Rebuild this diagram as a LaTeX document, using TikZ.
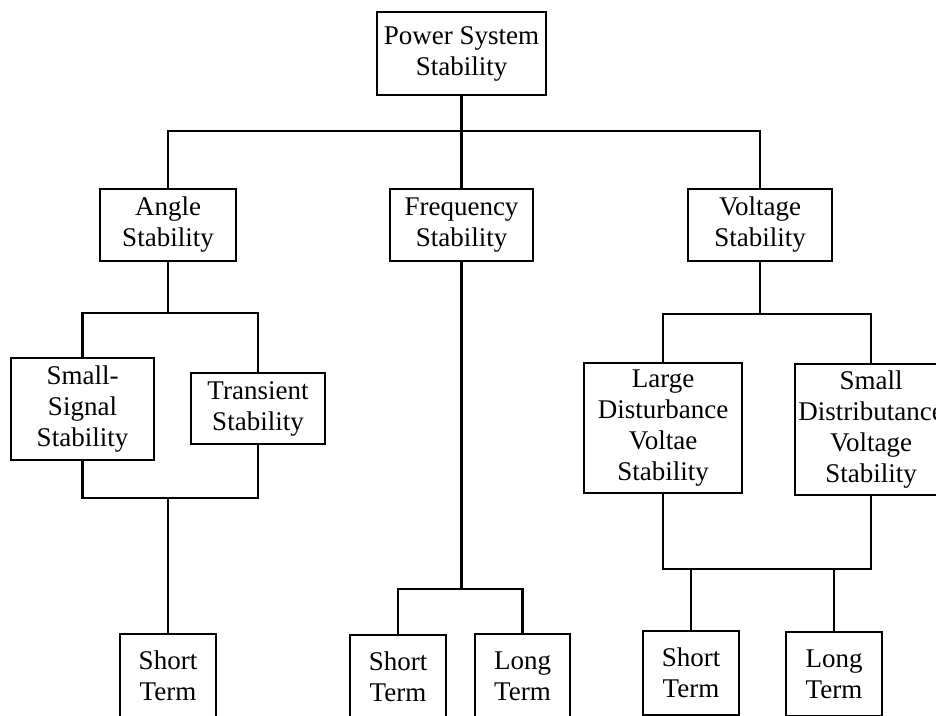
\documentclass[tikz,border=0pt]{standalone}
\usepackage{fontspec}
\setmainfont{Liberation Serif}
\begin{document}
\begin{tikzpicture}[x=1pt,y=-1pt,
  box/.style={draw=black,line width=2.6pt,rectangle,inner sep=0pt,align=center,
    font=\fontsize{27}{31}\selectfont,fill=white},
  conn/.style={draw=black,line width=2.5pt,line cap=rect}]
\useasboundingbox (0,0) rectangle (936,715);
\clip (0,0) rectangle (936,715);
\fill[white] (0,0) rectangle (936,715);
% nodes
\node[box,minimum width=169pt,minimum height=83pt] (pss) at (461.5,53.5) {Power System\\Stability};
\node[box,minimum width=136pt,minimum height=72pt] (ang) at (168,225) {Angle\\Stability};
\node[box,minimum width=143pt,minimum height=72pt] (freq) at (461.5,225) {Frequency\\Stability};
\node[box,minimum width=144pt,minimum height=72pt] (volt) at (760,225) {Voltage\\Stability};
\node[box,minimum width=143pt,minimum height=102pt] (sss) at (82.5,409) {Small-\\Signal\\Stability};
\node[box,minimum width=134pt,minimum height=71pt] (trans) at (258,408.5) {Transient\\Stability};
\node[box,minimum width=158pt,minimum height=130pt] (ldv) at (663,428) {Large\\Disturbance\\Voltae\\Stability};
\node[box,minimum width=152pt,minimum height=131pt] (sdv) at (871,429.5) {Small\\Distributance\\Voltage\\Stability};
\node[box,minimum width=96pt,minimum height=84pt] (st1) at (168,676) {Short\\Term};
\node[box,minimum width=96pt,minimum height=84pt] (st2) at (398,677) {Short\\Term};
\node[box,minimum width=95pt,minimum height=84pt] (lt2) at (522.5,676) {Long\\Term};
\node[box,minimum width=96pt,minimum height=84pt] (st3) at (691,673) {Short\\Term};
\node[box,minimum width=96pt,minimum height=84pt] (lt3) at (834,674) {Long\\Term};
% bus coordinates
\coordinate (b1) at (0,131);
\coordinate (b2) at (0,313);
\coordinate (b3) at (0,498);
\coordinate (b4) at (0,589);
\coordinate (b5) at (0,314);
\coordinate (b6) at (0,569);
% top level
\draw[conn] (pss.south) -- (freq.north);
\draw[conn] (ang.north) -- (ang.north |- b1) -- (volt.north |- b1) -- (volt.north);
% angle group
\draw[conn] (ang.south) -- (ang.south |- b2);
\draw[conn] (sss.north) -- (sss.north |- b2) -- (trans.north |- b2) -- (trans.north);
\draw[conn] (sss.south) -- (sss.south |- b3) -- (trans.south |- b3) -- (trans.south);
\draw[conn] (st1.north) -- (st1.north |- b3);
% frequency group
\draw[conn] (freq.south) -- (freq.south |- b4);
\draw[conn] (st2.north) -- (st2.north |- b4) -- (lt2.north |- b4) -- (lt2.north);
% voltage group
\draw[conn] (volt.south) -- (volt.south |- b5);
\draw[conn] (ldv.north) -- (ldv.north |- b5) -- (sdv.north |- b5) -- (sdv.north);
\draw[conn] (ldv.south) -- (ldv.south |- b6) -- (sdv.south |- b6) -- (sdv.south);
\draw[conn] (st3.north) -- (st3.north |- b6);
\draw[conn] (lt3.north) -- (lt3.north |- b6);
\end{tikzpicture}
\end{document}
